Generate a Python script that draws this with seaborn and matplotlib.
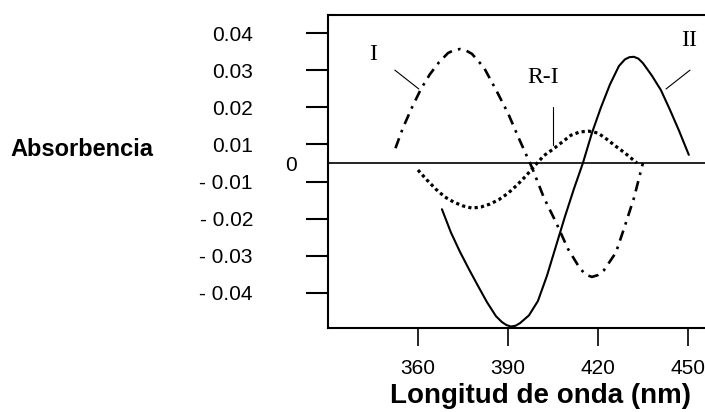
import matplotlib.pyplot as plt
import seaborn as sns

# curva I (punto-raya)
wl_I = [352.5, 355, 358, 361, 364, 367, 370, 372, 374, 376, 378, 382, 386,
        390, 394, 398, 402, 406, 410, 414, 416, 418, 420, 422, 426, 429,
        432, 435]
abs_I = [0.0040, 0.0095, 0.0150, 0.0200, 0.0240, 0.0272, 0.0297, 0.0305,
         0.0308, 0.0304, 0.0295, 0.0258, 0.0198, 0.0135, 0.0060, -0.0012,
         -0.0094, -0.0160, -0.0232, -0.0285, -0.0302, -0.0308, -0.0303,
         -0.0290, -0.0242, -0.0170, -0.0095, 0.0000]

# curva II (continua)
wl_II = [368, 371, 374, 377, 380, 383, 386, 388, 389.5, 391, 392.5, 394,
         397, 400, 403, 406, 409, 412, 415, 418, 421, 424, 427, 429, 430.5,
         432, 433.5, 435, 438, 441, 444, 447, 450.3]
abs_II = [-0.0125, -0.0188, -0.0240, -0.0287, -0.0332, -0.0376, -0.0414,
          -0.0430, -0.0438, -0.0442, -0.0440, -0.0433, -0.0412, -0.0373,
          -0.0305, -0.0225, -0.0145, -0.0070, 0.0000, 0.0081, 0.0150,
          0.0212, 0.0262, 0.0280, 0.0286, 0.0287, 0.0282, 0.0270, 0.0236,
          0.0197, 0.0144, 0.0088, 0.0022]

# curva R-I (punteada)
wl_RI = [360, 363, 366, 369, 372, 375, 378, 381, 384, 387, 390, 393, 396,
         399, 402, 405, 408, 411, 414, 417, 420, 423, 426, 429, 433]
abs_RI = [-0.0019, -0.0046, -0.0071, -0.0092, -0.0106, -0.0116, -0.0122,
          -0.0119, -0.0111, -0.0099, -0.0082, -0.0060, -0.0035, -0.0007,
          0.0020, 0.0037, 0.0056, 0.0075, 0.0084, 0.0086, 0.0081, 0.0064,
          0.0045, 0.0027, 0.0000]

x_ticks = [360, 390, 420, 450]
y_ticks = [0.0351, 0.0251, 0.0151, 0.0051, -0.0051, -0.0151, -0.0251, -0.0351]
y_labels = ["0.04", "0.03", "0.02", "0.01", "- 0.01", "- 0.02", "- 0.03", "- 0.04"]

sns.set_style("white")
plt.rcParams["font.family"] = ["Liberation Sans", "DejaVu Sans"]
plt.rcParams.update({"text.color": "black", "axes.labelcolor": "black",
                     "xtick.color": "black", "ytick.color": "black"})

fig = plt.figure(figsize=(7.05, 4.12), dpi=100)
ax = fig.add_axes([0.4652, 0.2039, 0.5348, 0.7597])

sns.lineplot(x=wl_I, y=abs_I, ax=ax, color="black", lw=1.9,
             linestyle=(0, (4, 2.4, 1, 2.4)), estimator=None, sort=False)
sns.lineplot(x=wl_II, y=abs_II, ax=ax, color="black", lw=1.5,
             estimator=None, sort=False, solid_joinstyle="round")
sns.lineplot(x=wl_RI, y=abs_RI, ax=ax, color="black", lw=2.3,
             linestyle=(0, (1, 1)), estimator=None, sort=False)

ax.axhline(0, color="black", lw=1.2)
ax.set_xlim(330, 455.7)
ax.set_ylim(-0.0446, 0.040)

ax.set_xticks(x_ticks)
ax.set_xticklabels([str(v) for v in x_ticks])
ax.set_yticks(y_ticks)
ax.set_yticklabels(y_labels)
ax.tick_params(axis="y", direction="out", length=16, width=1.5, pad=38,
               labelsize=15, left=True, colors="black")
ax.tick_params(axis="x", direction="out", length=13, width=1.2, pad=9,
               labelsize=15, bottom=True, colors="black")

for side in ["left", "top", "bottom"]:
    ax.spines[side].set_color("black")
    ax.spines[side].set_linewidth(1.5)
ax.spines["right"].set_visible(False)

ax.text(317.7, -0.0008, "0", fontsize=15, ha="center", va="center",
        clip_on=False)

serif = ["Liberation Serif", "DejaVu Serif"]
ax.text(345, 0.0292, "I", family=serif, fontsize=17, ha="center", va="center")
ax.plot([352.3, 360.3], [0.0251, 0.0200], color="black", lw=0.8)
ax.text(401.7, 0.0232, "R-I", family=serif, fontsize=17, ha="center", va="center")
ax.plot([405, 405], [0.0151, 0.0049], color="black", lw=0.8)
ax.text(450.3, 0.0332, "II", family=serif, fontsize=17, ha="center", va="center")
ax.plot([450.7, 442.7], [0.0251, 0.0200], color="black", lw=0.8)

fig.text(82 / 705, 1 - 150 / 412, "Absorbencia", fontsize=17,
         fontweight="bold", ha="center", va="center")
fig.text(541 / 705, 1 - 396 / 412, "Longitud de onda (nm)", fontsize=20,
         fontweight="bold", ha="center", va="center")

fig.savefig("out.png", dpi=100)
